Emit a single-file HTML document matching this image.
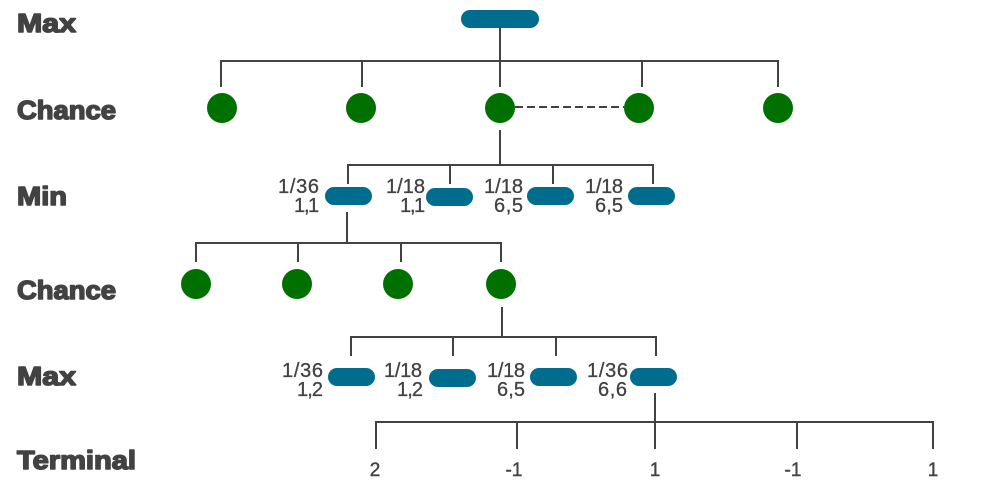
<!DOCTYPE html>
<html>
<head>
<meta charset="utf-8">
<style>
html,body{margin:0;padding:0;background:#fff;}
svg{display:block;}
.h{font-family:"Liberation Sans",sans-serif;font-weight:bold;font-size:26px;fill:#424242;stroke:#424242;stroke-width:1.5;stroke-linejoin:round;}
.s{font-family:"Liberation Sans",sans-serif;font-size:20px;fill:#424242;stroke:#424242;stroke-width:0.3;}
.t{font-family:"Liberation Sans",sans-serif;font-size:19px;fill:#424242;stroke:#424242;stroke-width:0.4;text-anchor:middle;}
.l{fill:none;stroke:#424242;stroke-width:2;}
.p{fill:#006d8f;}
.c{fill:#007000;}
</style>
</head>
<body>
<svg width="1000" height="500" viewBox="0 0 1000 500" xmlns="http://www.w3.org/2000/svg">
<rect width="1000" height="500" fill="#fff"/>
<g class="l">
<path d="M500 28V61M221 87V61H778V87M362 61V87M500 61V87M642 61V87"/>
<path d="M515 107H624" stroke-dasharray="8 4"/>
<path d="M500 130V165M348 184V165H653V184M450 165V184M553 165V184"/>
<path d="M347 212V243M196 262V243H501V262M298 243V262M401 243V262"/>
<path d="M502 307V337M351 356V337H656V356M453 337V356M556 337V356"/>
<path d="M655 393V449M376 449V422H933V449M517 422V449M797 422V449"/>
</g>
<rect class="p" x="461" y="10" width="78" height="18" rx="9"/>
<circle class="c" cx="222" cy="108" r="15"/>
<circle class="c" cx="361" cy="108" r="15"/>
<circle class="c" cx="500" cy="108" r="15"/>
<circle class="c" cx="639" cy="108" r="15"/>
<circle class="c" cx="778" cy="108" r="15"/>
<rect class="p" x="325" y="187" width="47" height="18" rx="9"/>
<rect class="p" x="426" y="188" width="47" height="18" rx="9"/>
<rect class="p" x="527" y="187" width="47" height="18" rx="9"/>
<rect class="p" x="628" y="187" width="47" height="18" rx="9"/>
<circle class="c" cx="196" cy="284" r="15"/>
<circle class="c" cx="297" cy="284" r="15"/>
<circle class="c" cx="398" cy="284" r="15"/>
<circle class="c" cx="501" cy="284" r="15"/>
<rect class="p" x="328" y="368" width="47" height="18" rx="9"/>
<rect class="p" x="429" y="369" width="47" height="18" rx="9"/>
<rect class="p" x="530" y="368" width="47" height="18" rx="9"/>
<rect class="p" x="630" y="368" width="47" height="18" rx="9"/>
<text class="h" x="17" y="32" textLength="59" lengthAdjust="spacingAndGlyphs">Max</text>
<text class="h" x="17" y="119" textLength="99" lengthAdjust="spacingAndGlyphs">Chance</text>
<text class="h" x="17" y="205" textLength="50" lengthAdjust="spacingAndGlyphs">Min</text>
<text class="h" x="17" y="299" textLength="99" lengthAdjust="spacingAndGlyphs">Chance</text>
<text class="h" x="17" y="385" textLength="59" lengthAdjust="spacingAndGlyphs">Max</text>
<text class="h" x="17" y="469" textLength="119" lengthAdjust="spacingAndGlyphs">Terminal</text>
<text class="s" x="278" y="193" textLength="41" lengthAdjust="spacing">1/36</text>
<text class="s" x="294 304 308" y="212">1,1</text>
<text class="s" x="386" y="193" textLength="39" lengthAdjust="spacing">1/18</text>
<text class="s" x="400 410 414" y="212">1,1</text>
<text class="s" x="484" y="193" textLength="39" lengthAdjust="spacing">1/18</text>
<text class="s" x="494" y="212" textLength="29" lengthAdjust="spacing">6,5</text>
<text class="s" x="585" y="193" textLength="38" lengthAdjust="spacing">1/18</text>
<text class="s" x="595" y="212" textLength="28" lengthAdjust="spacing">6,5</text>
<text class="s" x="282" y="377" textLength="41" lengthAdjust="spacing">1/36</text>
<text class="s" x="297" y="396" textLength="26" lengthAdjust="spacing">1,2</text>
<text class="s" x="384" y="377" textLength="38" lengthAdjust="spacing">1/18</text>
<text class="s" x="397" y="396" textLength="26" lengthAdjust="spacing">1,2</text>
<text class="s" x="487" y="377" textLength="38" lengthAdjust="spacing">1/18</text>
<text class="s" x="497" y="396" textLength="28" lengthAdjust="spacing">6,5</text>
<text class="s" x="587" y="377" textLength="41" lengthAdjust="spacing">1/36</text>
<text class="s" x="598" y="396" textLength="29" lengthAdjust="spacing">6,6</text>
<text class="t" x="375" y="476">2</text>
<text class="t" x="514" y="476">-1</text>
<text class="t" x="655" y="476">1</text>
<text class="t" x="793" y="476">-1</text>
<text class="t" x="933" y="476">1</text>
</svg>
</body>
</html>
